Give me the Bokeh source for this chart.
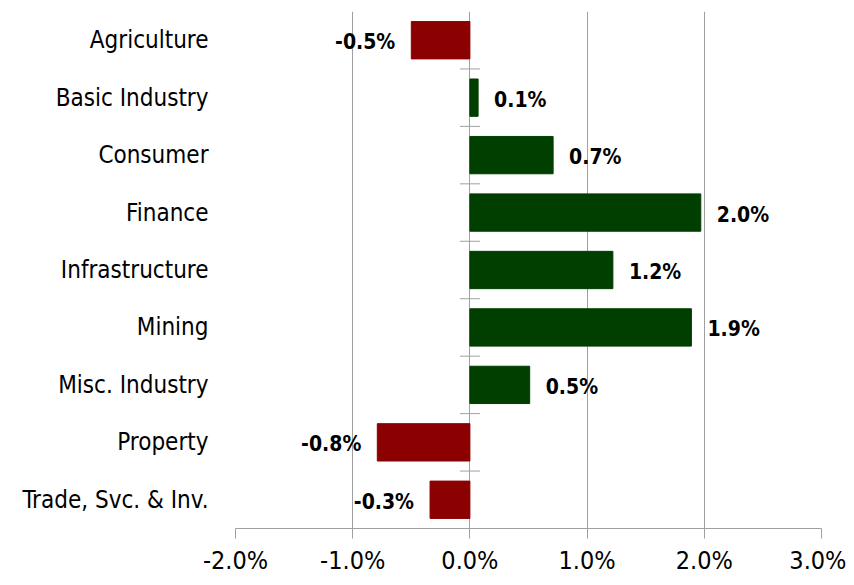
from bokeh.plotting import figure
from bokeh.models import FactorRange, FixedTicker, PrintfTickFormatter, ColumnDataSource
from bokeh.embed import file_html
from bokeh.resources import INLINE
from bokeh.core.properties import value

categories = ["Agriculture", "Basic Industry", "Consumer", "Finance", "Infrastructure",
              "Mining", "Misc. Industry", "Property", "Trade, Svc. & Inv."]
returns = [-0.50, 0.07, 0.71, 1.97, 1.22, 1.89, 0.51, -0.79, -0.34]
x_ticks = [-2, -1, 0, 1, 2, 3]

FONT = "'DejaVu Sans Condensed', 'Liberation Sans', sans-serif"
RED = "#8B0000"
GREEN = "#003F00"
GRID = "#A0A0A0"

colors = [GREEN if v >= 0 else RED for v in returns]
labels = [f"{v:.1f}%" for v in returns]
aligns = ["left" if v >= 0 else "right" for v in returns]
offsets = [16 if v >= 0 else -16 for v in returns]

src = ColumnDataSource(dict(cat=categories, val=returns, color=colors,
                            label=labels, align=aligns, off=offsets))

p = figure(width=846, height=577, output_backend="svg", toolbar_location=None,
           x_range=(-2, 3), y_range=FactorRange(factors=list(reversed(categories))),
           min_border_left=235, min_border_right=25, min_border_top=11, min_border_bottom=46)
p.outline_line_color = None
p.background_fill_color = "white"
p.border_fill_color = "white"

p.hbar(y="cat", left=0, right="val", height=0.65, source=src,
       fill_color="color", line_color="color", line_width=1)

# category boundary ticks on the zero line
n = len(categories)
bounds = list(range(n))
p.segment(x0=[-0.085] * n, x1=[0.085] * n, y0=bounds, y1=bounds, line_color=GRID, line_width=1)

p.text(x="val", y="cat", text="label", source=src, text_align="align", x_offset="off",
       y_offset=2, text_baseline="middle", text_font=value(FONT), text_font_size="21px",
       text_font_style="bold", text_color="#000000")

p.xaxis.ticker = FixedTicker(ticks=x_ticks)
p.xaxis.formatter = PrintfTickFormatter(format="%.1f%%")
p.xaxis.axis_line_color = GRID
p.xaxis.major_tick_line_color = GRID
p.xaxis.major_tick_in = 0
p.xaxis.major_tick_out = 10
p.xaxis.minor_tick_line_color = None
p.xaxis.major_label_text_font = FONT
p.xaxis.major_label_text_font_size = "25px"
p.xaxis.major_label_text_color = "#000000"
p.xaxis.major_label_standoff = 7

p.yaxis.axis_line_color = None
p.yaxis.major_tick_line_color = None
p.yaxis.minor_tick_line_color = None
p.yaxis.major_tick_out = 0
p.yaxis.major_tick_in = 0
p.yaxis.major_label_standoff = 27
p.yaxis.major_label_text_font = FONT
p.yaxis.major_label_text_font_size = "24px"
p.yaxis.major_label_text_color = "#000000"

p.xgrid.ticker = FixedTicker(ticks=x_ticks)
p.xgrid.grid_line_color = GRID
p.xgrid.grid_line_width = 1
p.ygrid.grid_line_color = None

open("out.html", "w").write(file_html(p, INLINE))
